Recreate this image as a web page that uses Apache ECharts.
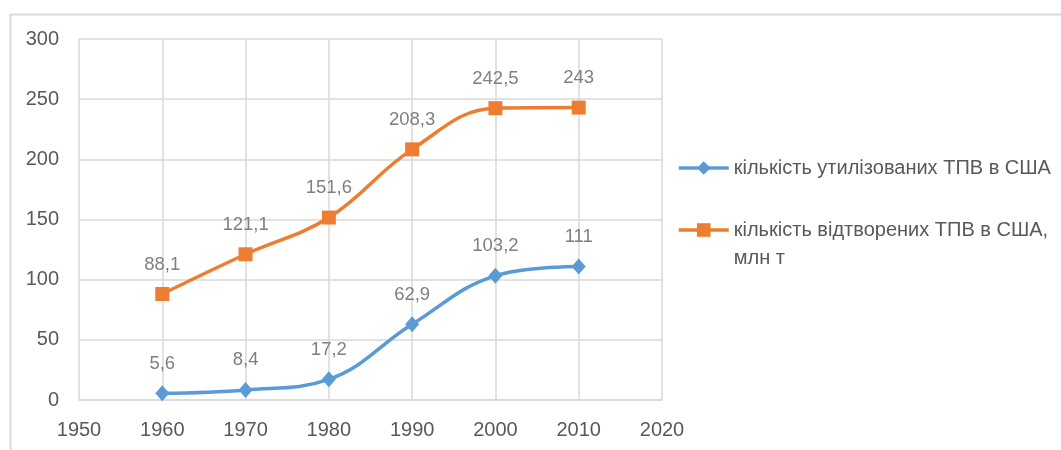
<!DOCTYPE html>
<html>
<head>
<meta charset="utf-8">
<script src="https://cdn.jsdelivr.net/npm/echarts@6/dist/echarts.min.js"></script>
<style>
html,body{margin:0;padding:0;background:#fff;}
#chart{width:1061px;height:450px;}
</style>
</head>
<body>
<div id="chart"></div>
<script>
const years = [1960, 1970, 1980, 1990, 2000, 2010];
const utilized = [5.6, 8.4, 17.2, 62.9, 103.2, 111];
const generated = [88.1, 121.1, 151.6, 208.3, 242.5, 243];
const nameUtilized = 'кількість утилізованих ТПВ в США';
const nameGenerated = 'кількість відтворених ТПВ в США, млн т';

const FONT = '"Liberation Sans", Arial, sans-serif';
const pairs = (vals) => years.map((y, i) => [y, vals[i]]);
const fmt = (p) => String(p.value[1]).replace('.', ',');

const chart = echarts.init(document.getElementById('chart'), null, {renderer: 'canvas'});
chart.setOption({
  animation: false,
  backgroundColor: '#ffffff',
  graphic: [{
    type: 'rect', left: 8, top: 12, silent: true,
    shape: {width: 1200, height: 600},
    style: {fill: 'none', stroke: '#d9d9d9', lineWidth: 2}
  }],
  grid: {left: 79, right: 399, top: 39, bottom: 50},
  legend: [{
    data: [nameUtilized], orient: 'vertical', left: 677, top: 154, padding: 0,
    itemWidth: 50, itemHeight: 17,
    lineStyle: {width: 3.5},
    textStyle: {fontFamily: FONT, fontSize: 20, color: '#595959', lineHeight: 28}
  }, {
    data: [nameGenerated], orient: 'vertical', left: 677, top: 188, padding: 0,
    itemWidth: 50, itemHeight: 17,
    lineStyle: {width: 3.5},
    formatter: (n) => ' \n' + n.replace(', ', ',\n'),
    textStyle: {fontFamily: FONT, fontSize: 20, color: '#595959', lineHeight: 28}
  }],
  xAxis: {
    type: 'value', min: 1950, max: 2020, interval: 10,
    axisLine: {show: true, lineStyle: {color: '#d9d9d9', width: 1.5}},
    axisTick: {show: false},
    splitLine: {show: true, lineStyle: {color: '#d9d9d9', width: 1.5}},
    axisLabel: {fontFamily: FONT, fontSize: 20, color: '#595959', margin: 20,
      formatter: (v) => String(v)}
  },
  yAxis: {
    type: 'value', min: 0, max: 300, interval: 50,
    axisLine: {show: false},
    axisTick: {show: false},
    splitLine: {show: true, lineStyle: {color: '#d9d9d9', width: 1.5}},
    axisLabel: {fontFamily: FONT, fontSize: 20, color: '#595959', margin: 20}
  },
  series: [{
    name: nameUtilized, type: 'line', data: pairs(utilized), smooth: 0.4,
    symbol: 'diamond', symbolSize: [14, 16],
    itemStyle: {color: '#5B9BD5'},
    lineStyle: {color: '#5B9BD5', width: 3.5},
    label: {show: true, position: 'top', distance: 12, formatter: fmt,
      fontFamily: FONT, fontSize: 18.5, color: '#7f7f7f'}
  }, {
    name: nameGenerated, type: 'line', data: pairs(generated), smooth: 0.4,
    symbol: 'rect', symbolSize: 14,
    itemStyle: {color: '#ED7D31'},
    lineStyle: {color: '#ED7D31', width: 3.5},
    label: {show: true, position: 'top', distance: 13, formatter: fmt,
      fontFamily: FONT, fontSize: 18.5, color: '#7f7f7f'}
  }]
});
</script>
</body>
</html>
